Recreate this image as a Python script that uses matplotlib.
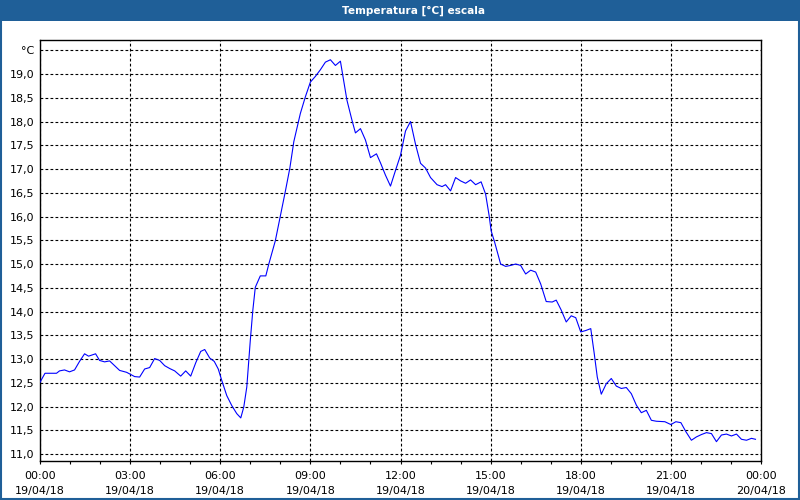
import matplotlib
matplotlib.use("Agg")
import matplotlib.pyplot as plt
from matplotlib.patches import Rectangle
from matplotlib.ticker import MultipleLocator

# minutes since 19/04/18 00:00
minutes = [0, 10, 33, 39, 49, 59, 69, 79, 89, 97, 111, 119, 129, 139, 159, 173,
           189, 199, 209, 219, 229, 239, 249, 259, 269, 281, 291, 301, 311, 321,
           329, 339, 348, 356, 363, 373, 383, 393, 401, 407, 413, 420, 425, 430,
           440, 451, 457, 470, 480, 490, 499, 507, 520, 530, 540, 550, 560, 570,
           580, 590, 600, 603, 613, 623, 630, 640, 650, 660, 672, 680, 690, 700,
           710, 720, 730, 740, 750, 760, 770, 780, 793, 803, 810, 820, 830, 840,
           850, 860, 870, 881, 890, 897, 901, 908, 920, 930, 940, 950, 960, 970,
           980, 990, 1000, 1011, 1023, 1031, 1041, 1051, 1061, 1070, 1080, 1090,
           1100, 1107, 1113, 1121, 1131, 1141, 1151, 1161, 1171, 1181, 1191, 1201,
           1211, 1221, 1231, 1248, 1260, 1270, 1280, 1290, 1301, 1311, 1321, 1331,
           1341, 1351, 1361, 1371, 1381, 1391, 1401, 1411, 1421, 1429]
temp = [12.51, 12.70, 12.70, 12.75, 12.77, 12.73, 12.77, 12.95, 13.11, 13.06,
        13.11, 12.97, 12.94, 12.96, 12.76, 12.72, 12.63, 12.62, 12.79, 12.82,
        13.01, 12.97, 12.86, 12.80, 12.75, 12.64, 12.75, 12.64, 12.92, 13.16,
        13.20, 13.02, 12.95, 12.79, 12.55, 12.23, 12.02, 11.85, 11.76, 11.99,
        12.41, 13.39, 14.02, 14.51, 14.75, 14.75, 15.00, 15.49, 16.01, 16.53,
        17.02, 17.58, 18.17, 18.52, 18.83, 18.95, 19.09, 19.25, 19.30, 19.18,
        19.27, 19.08, 18.45, 18.03, 17.76, 17.85, 17.61, 17.24, 17.32, 17.13,
        16.87, 16.64, 16.97, 17.29, 17.80, 18.00, 17.52, 17.12, 17.02, 16.82,
        16.67, 16.63, 16.67, 16.54, 16.82, 16.75, 16.70, 16.77, 16.67, 16.73,
        16.47, 16.02, 15.70, 15.46, 15.00, 14.95, 14.97, 15.00, 14.97, 14.79,
        14.87, 14.83, 14.58, 14.21, 14.20, 14.24, 14.03, 13.78, 13.91, 13.87,
        13.57, 13.60, 13.64, 13.11, 12.62, 12.26, 12.48, 12.59, 12.43, 12.38,
        12.40, 12.27, 12.03, 11.87, 11.92, 11.71, 11.69, 11.68, 11.62, 11.68,
        11.66, 11.47, 11.29, 11.36, 11.41, 11.45, 11.43, 11.26, 11.40, 11.42,
        11.38, 11.42, 11.31, 11.29, 11.33, 11.31]

x_ticks = [0, 180, 360, 540, 720, 900, 1080, 1260, 1440]
x_labels = ["00:00\n19/04/18", "03:00\n19/04/18", "06:00\n19/04/18",
            "09:00\n19/04/18", "12:00\n19/04/18", "15:00\n19/04/18",
            "18:00\n19/04/18", "21:00\n19/04/18", "00:00\n20/04/18"]
y_ticks = [11.0, 11.5, 12.0, 12.5, 13.0, 13.5, 14.0, 14.5, 15.0, 15.5,
           16.0, 16.5, 17.0, 17.5, 18.0, 18.5, 19.0, 19.5]
y_labels = [f"{v:.1f}".replace(".", ",") for v in y_ticks[:-1]] + ["°C"]

bar_blue = "#1f5f98"

fig = plt.figure(figsize=(8, 5), dpi=100)
fig.patch.set_facecolor("white")

# title bar and window frame
fig.patches.append(Rectangle((0, 1 - 21 / 500), 1, 21 / 500, transform=fig.transFigure,
                             facecolor=bar_blue, edgecolor="none", zorder=0))
fig.patches.append(Rectangle((0.001, 0.002), 0.998, 0.996, transform=fig.transFigure,
                             facecolor="none", edgecolor=bar_blue, linewidth=1.5, zorder=1))
fig.text(413 / 800, 1 - 10.5 / 500, "Temperatura [°C] escala", color="white",
         fontsize=7.6, fontweight="bold", ha="center", va="center")

ax = fig.add_axes([40 / 800, 39 / 500, 721 / 800, 421 / 500])
ax.plot(minutes, temp, color="#0000ff", linewidth=0.8, zorder=3)

ax.set_xlim(0, 1440)
ax.set_ylim(10.853, 19.716)
ax.set_xticks(x_ticks)
ax.set_xticklabels(x_labels, fontsize=8, linespacing=1.6)
ax.xaxis.set_minor_locator(MultipleLocator(60))
ax.set_yticks(y_ticks)
ax.set_yticklabels(y_labels, fontsize=8)

ax.tick_params(axis="x", which="both", direction="out", length=2.5, width=0.8, pad=5)
ax.tick_params(axis="y", length=0, pad=4)
ax.grid(True, which="major", color="black", linestyle=(0, (2.5, 2)), linewidth=0.8)

for s in ax.spines.values():
    s.set_color("black")
    s.set_linewidth(1)

plt.savefig("out.png", dpi=100)
plt.close()
